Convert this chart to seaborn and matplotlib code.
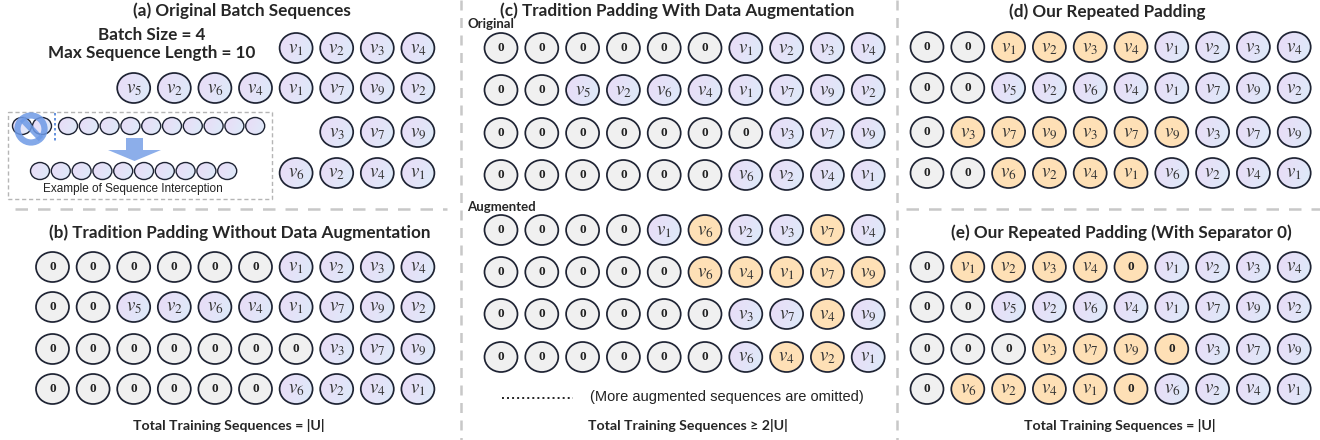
import numpy as np
import matplotlib
matplotlib.use("Agg")
import matplotlib.pyplot as plt
from matplotlib.patches import Ellipse, Rectangle, Polygon, Circle
from matplotlib.colors import LinearSegmentedColormap
import seaborn as sns

sns.set_theme(style="white")
plt.rcParams['font.family'] = ['Lato', 'DejaVu Sans']
plt.rcParams['mathtext.fontset'] = 'stix'

# ---------------- data ----------------
# tokens: "0" = padding, "k" = item v_k, "*" suffix = augmented / repeated (orange)
batch_sequences = ["1 2 3 4", "5 2 6 4 1 7 9 2", "3 7 9", "6 2 4 1"]
panel_b_rows = ["0 0 0 0 0 0 1 2 3 4", "0 0 5 2 6 4 1 7 9 2",
                "0 0 0 0 0 0 0 3 7 9", "0 0 0 0 0 0 6 2 4 1"]
panel_c_original = panel_b_rows
panel_c_augmented = ["0 0 0 0 1 6* 2 3 7* 4", "0 0 0 0 0 6* 4* 1* 7* 9*",
                     "0 0 0 0 0 0 3 7 4* 9", "0 0 0 0 0 0 6 4* 2* 1"]
panel_d_rows = ["0 0 1* 2* 3* 4* 1 2 3 4", "0 0 5 2 6 4 1 7 9 2",
                "0 3* 7* 9* 3* 7* 9* 3 7 9", "0 0 6* 2* 4* 1* 6 2 4 1"]
panel_e_rows = ["0 1* 2* 3* 4* 0* 1 2 3 4", "0 0 5 2 6 4 1 7 9 2",
                "0 0 0 3* 7* 9* 0* 3 7 9", "0 6* 2* 4* 1* 0* 6 2 4 1"]
titles = ["(a) Original Batch Sequences",
          "(b) Tradition Padding Without Data Augmentation",
          "(c) Tradition Padding With Data Augmentation",
          "(d) Our Repeated Padding",
          "(e) Our Repeated Padding (With Separator 0)"]
totals = ["Total Training Sequences = |U|",
          "Total Training Sequences \u2265 2|U|",
          "Total Training Sequences = |U|"]
batch_info = ["Batch Size = 4", "Max Sequence Length = 10"]
interception_before = 12
interception_after = 10

# ---------------- styling ----------------
EDGE = "#1e2333"
ZERO_FILL = "#f0f0f0"
ORANGE_FILL = "#fee0b6"
grad_cmap = LinearSegmentedColormap.from_list("vg", ["#e9dcf7", "#e4e3f8", "#dcebf9"])
GRID = "#c8c8c8"
W, H = 33, 30
BOLD = dict(fontweight="bold", family=["Lato", "DejaVu Sans"])

fig = plt.figure(figsize=(13.2, 4.4), dpi=100)
ax = fig.add_axes([0, 0, 1, 1])

gx, gy = np.meshgrid(np.linspace(0, 1, 24), np.linspace(0, 1, 24))
grad = (gx * 0.75 + gy * 0.25)


def node(x, y, tok, w=W, h=H, lw=1.25, label=True):
    orange = tok.endswith("*")
    t = tok.rstrip("*")
    if t == "0" or orange:
        e = Ellipse((x, y), w, h, facecolor=ORANGE_FILL if orange else ZERO_FILL,
                    edgecolor=EDGE, lw=lw, zorder=3)
        ax.add_patch(e)
    else:
        e = Ellipse((x, y), w, h, facecolor="none", edgecolor=EDGE, lw=lw, zorder=3)
        ax.add_patch(e)
        im = ax.imshow(grad, cmap=grad_cmap, extent=[x - w / 2, x + w / 2, y + h / 2, y - h / 2],
                       zorder=2, aspect="auto", interpolation="bilinear")
        im.set_clip_path(e)
    if not label:
        return
    if t == "0":
        ax.text(x, y, "0", ha="center", va="center", fontsize=9.5, fontweight="bold",
                family="Liberation Serif", color="#222222", zorder=4)
    else:
        ax.text(x, y + 1, r"$v_{%s}$" % t, ha="center", va="center", fontsize=13.5,
                color="#333333", zorder=4)


def grid(rows, x0, dx, ys):
    for r, y in zip(rows, ys):
        toks = r.split()
        for i, tok in enumerate(toks):
            node(x0 + i * dx, y, tok)


# panel (a)
ys_a = [48, 88, 132, 173]
xa0, dxa = 52.5, 40.6
for seq, y in zip(batch_sequences, ys_a):
    toks = seq.split()
    start = 10 - len(toks)
    for i, tok in enumerate(toks):
        node(xa0 + (start + i) * dxa, y, tok)

# panel (b)
grid(panel_b_rows, xa0, dxa, [267, 307, 349, 389])
# panel (c)
grid(panel_c_original, 501, 40.8, [48, 90, 133, 175])
grid(panel_c_augmented, 501, 40.8, [230, 272, 314, 357])
# panel (d), (e)
grid(panel_d_rows, 927, 40.8, [47, 88, 132, 173])
grid(panel_e_rows, 927, 40.8, [267, 307, 349, 389])

# titles
tfs = 12.3
ax.text(242, 11, titles[0], ha="center", va="center", fontsize=tfs, **BOLD)
ax.text(240, 233, titles[1], ha="center", va="center", fontsize=tfs, **BOLD)
ax.text(677, 11, titles[2], ha="center", va="center", fontsize=tfs, **BOLD)
ax.text(1107, 12, titles[3], ha="center", va="center", fontsize=tfs, **BOLD)
ax.text(1121, 233, titles[4], ha="center", va="center", fontsize=tfs, **BOLD)
ax.text(152, 35, batch_info[0], ha="center", va="center", fontsize=tfs, **BOLD)
ax.text(152, 53, batch_info[1], ha="center", va="center", fontsize=tfs, **BOLD)
ax.text(467, 24, "Original", ha="left", va="center", fontsize=9.5, **BOLD)
ax.text(467, 207, "Augmented", ha="left", va="center", fontsize=9.5, **BOLD)

tofs = 10.2
ax.text(229, 426, totals[0], ha="center", va="center", fontsize=tofs, **BOLD)
ax.text(688, 425, totals[1], ha="center", va="center", fontsize=tofs, **BOLD)
ax.text(1120, 425, totals[2], ha="center", va="center", fontsize=tofs, **BOLD)

# omitted note
ax.plot([502, 573], [398, 398], color="#222222", lw=1.4, ls=(0, (1, 1.6)))
ax.text(727, 397, "(More augmented sequences are omitted)", ha="center", va="center",
        fontsize=10.5, family="Liberation Sans", color="#222222")

# separators
ax.plot([461, 461], [0, 440], color=GRID, lw=1.8, ls=(0, (4, 3)), zorder=1)
ax.plot([897, 897], [0, 440], color=GRID, lw=1.8, ls=(0, (4, 3)), zorder=1)
ax.plot([15, 447], [209, 209], color=GRID, lw=1.8, ls=(0, (5, 4)), zorder=1)
ax.plot([906, 1320], [209, 209], color=GRID, lw=1.8, ls=(0, (5, 4)), zorder=1)

# interception example box
ax.add_patch(Rectangle((8, 112), 264, 87, facecolor="none", edgecolor="#b5b5b5",
                       lw=1.0, ls=(0, (3, 2)), zorder=1))
ex_x_top = [22, 42] + [68 + 20.8 * i for i in range(interception_before - 2)]
for x in ex_x_top:
    node(x, 126, "1", w=19, h=17, lw=1.0, label=False)
for i in range(interception_after):
    node(40 + 20.8 * i, 171, "1", w=19, h=17, lw=1.0, label=False)
ax.add_patch(Circle((31, 129), 13.5, facecolor="none", edgecolor="#6e9ae6", lw=4.5,
                    alpha=0.85, zorder=5))
ax.plot([22, 41], [119, 139], color="#6e9ae6", lw=4.5, alpha=0.85, zorder=5,
        solid_capstyle="butt")
ax.plot([55, 55], [113, 141], color="#4a7fd8", lw=1.2, ls=(0, (1.5, 1.5)), zorder=5)
ax.add_patch(Polygon([[126, 138], [143, 138], [143, 150], [161, 150], [134.5, 161],
                      [108, 150], [126, 150]], closed=True, facecolor="#8caeea",
                     edgecolor="none", zorder=5))
ax.text(133, 189, "Example of Sequence Interception", ha="center", va="center",
        fontsize=8.5, family="Liberation Sans", color="#222222")

ax.set_xlim(0, 1320)
ax.set_ylim(440, 0)
ax.axis("off")
fig.savefig("out.png", dpi=100, facecolor="white")
